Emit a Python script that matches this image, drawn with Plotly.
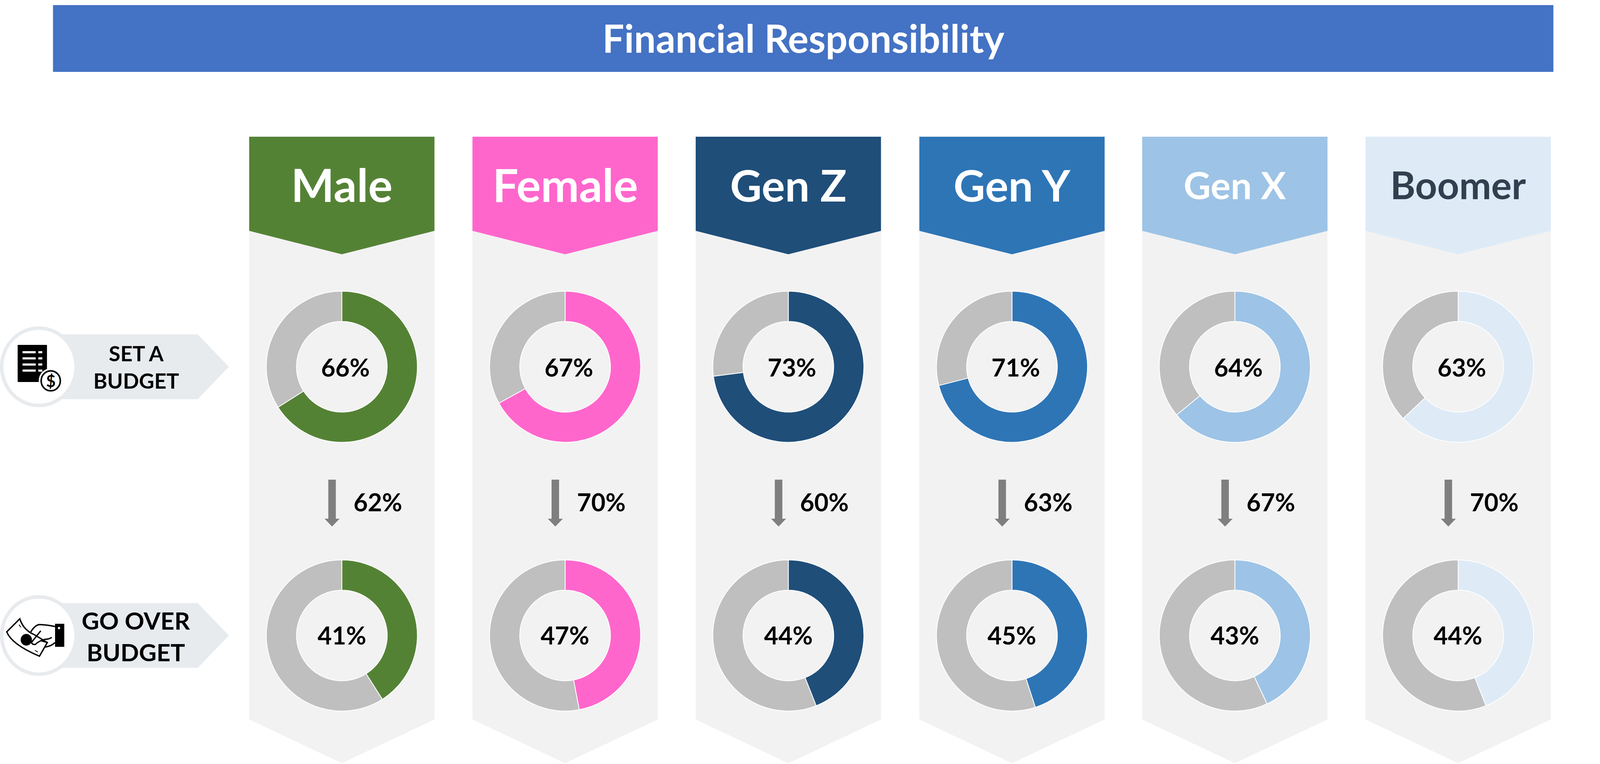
import plotly.graph_objects as go

W, H = 4257, 1956

groups = ["Male", "Female", "Gen Z", "Gen Y", "Gen X", "Boomer"]
set_budget = [66, 67, 73, 71, 64, 63]
go_over = [41, 47, 44, 45, 43, 44]
conversion = [62, 70, 60, 63, 67, 70]
colors = ["#548235", "#FF66CC", "#1F4E79", "#2E75B6", "#9DC3E6", "#DEEBF7"]
header_text = ["#FFFFFF", "#FFFFFF", "#FFFFFF", "#FFFFFF", "#FFFFFF", "#323F4F"]
header_size = [117, 117, 112, 112, 96, 98]
title = "Financial Responsibility"
row_labels = ["SET A<br>BUDGET", "GO OVER<br>BUDGET"]

GRAY, PANEL, TAG = "#BFBFBF", "#F2F2F2", "#E8EBEE"
FONT = "Lato"
col_left = [663, 1257, 1851, 2446, 3039, 3633]
COL_W = 493
R = 201
ROW_Y = [939, 1627]
ROW_TEXT_DX = [10, 0]
ROW_TEXT_DY = [1, -2]
PCT = 63


def px(x):
    return x / W


def py(y):
    return 1 - y / H


def path(d, fill, line=None, lw=0):
    return dict(type="path", xref="paper", yref="paper", path=d, fillcolor=fill, layer="below",
                line=dict(color=line or "rgba(0,0,0,0)", width=lw))


def poly(points, fill):
    d = "M " + " L ".join(f"{px(x):.5f},{py(y):.5f}" for x, y in points) + " Z"
    return path(d, fill)


def circle(cx, cy, r, fill, line=None, lw=0):
    return dict(type="circle", xref="paper", yref="paper", x0=px(cx - r), x1=px(cx + r),
                y0=py(cy + r), y1=py(cy - r), fillcolor=fill, layer="below",
                line=dict(color=line or "rgba(0,0,0,0)", width=lw))


def text(x, y, s, size, color="#000000"):
    return dict(xref="paper", yref="paper", x=px(x), y=py(y), text=f"<b>{s}</b>",
                showarrow=False, xanchor="center", yanchor="middle", align="center",
                font=dict(family=FONT, size=size, color=color))


def curve(zpoints, oy, fill, line=None, lw=0):
    out = []
    for item in zpoints:
        cmd, coords = item[0], item[1:]
        pts = " ".join(f"{px(coords[i] / 2.24):.5f},{py(oy + coords[i + 1] / 3):.5f}"
                       for i in range(0, len(coords), 2))
        out.append(f"{cmd} {pts}")
    return path(" ".join(out), fill, line, lw)


shapes, annotations, traces = [], [], []

# title bar
shapes.append(poly([(141, 13), (4133, 13), (4133, 184), (141, 184)], "#4472C4"))
annotations.append(text(2138, 96, title, 99, "#FFFFFF"))

for i, name in enumerate(groups):
    x0, x1 = col_left[i], col_left[i] + COL_W
    cx = (x0 + x1) / 2
    shapes.append(poly([(x0, 560), (x1, 560), (x1, 1842), (cx, 1954), (x0, 1842)], PANEL))
    shapes.append(poly([(x0, 350), (x1, 350), (x1, 591), (cx, 651), (x0, 591)], colors[i]))
    annotations.append(text(cx, 472, name, header_size[i], header_text[i]))
    for row, vals in enumerate([set_budget, go_over]):
        cy = ROW_Y[row]
        traces.append(go.Pie(
            values=[vals[i], 100 - vals[i]], labels=[name, "Other"], hole=0.6, sort=False,
            direction="clockwise", rotation=0, textinfo="none", hoverinfo="skip", showlegend=False,
            marker=dict(colors=[colors[i], GRAY], line=dict(color="#FFFFFF", width=2)),
            domain=dict(x=[px(cx - R), px(cx + R)], y=[py(cy + R), py(cy - R)]),
        ))
        annotations.append(text(cx + ROW_TEXT_DX[row], cy + ROW_TEXT_DY[row], f"{vals[i]}%", PCT))
    ax = cx - 26
    shapes.append(poly([(ax - 10, 1228), (ax + 10, 1228), (ax + 10, 1328), (ax + 20, 1328),
                        (ax, 1348), (ax - 20, 1328), (ax - 10, 1328)], "#7F7F7F"))
    annotations.append(text(cx + 96, 1284, f"{conversion[i]}%", PCT))

# row tags
for cy, label, size in zip(ROW_Y, row_labels, [54, 62]):
    shapes.append(poly([(120, cy - 83), (526, cy - 83), (609, cy), (526, cy + 83), (120, cy + 83)], TAG))
    shapes.append(circle(103.5, cy, 99, "#FFFFFF", TAG, 9))
    annotations.append(text(362, cy + 1, label, size))

# budget icon
shapes.append(poly([(47, 883), (125, 883), (125, 978), (47, 978)], "#000000"))
for k in range(4):
    y = 899 + k * 15.7
    shapes.append(poly([(60, y), (95, y), (95, y + 5.5), (60, y + 5.5)], "#FFFFFF"))
    shapes.append(poly([(102, y), (112.5, y), (112.5, y + 5.5), (102, y + 5.5)], "#FFFFFF"))
shapes.append(circle(135, 975, 32, "#FFFFFF"))
shapes.append(circle(135, 975, 25.5, "#FFFFFF", "#000000", 4))
annotations.append(text(135, 975, "$", 42))

# hand icon
oy = 1480
NONE = "rgba(0,0,0,0)"
shapes.append(curve([("M", 118, 313), ("L", 40, 413), ("Q", 70, 510, 235, 600), ("L", 282, 495),
                     ("L", 205, 435), ("Q", 140, 400, 118, 313), ("Z",)], oy, "#FFFFFF", "#000000", 3.5))
shapes.append(circle(70, 1638, 15, "#000000"))
shapes.append(curve([("M", 113, 358), ("L", 125, 378)], oy, NONE, "#000000", 2))
shapes.append(curve([("M", 208, 555), ("L", 225, 568)], oy, NONE, "#000000", 2))
shapes.append(curve([("M", 328, 372), ("Q", 280, 358, 232, 357), ("Q", 205, 365, 180, 420)], oy, NONE, "#000000", 3.5))
shapes.append(curve([("M", 243, 405), ("L", 190, 490), ("Q", 185, 510, 210, 510),
                     ("Q", 235, 480, 270, 470), ("Q", 295, 470, 308, 455)], oy, NONE, "#000000", 3.5))
shapes.append(curve([("M", 240, 480), ("L", 282, 495)], oy, NONE, "#000000", 3))
shapes.append(curve([("M", 265, 530), ("Q", 305, 525, 328, 495)], oy, NONE, "#000000", 3.5))
shapes.append(poly([(146.5, 1597), (171, 1597), (171, 1656), (146.5, 1656)], "#000000"))
shapes.append(circle(157, 1608, 3, "#FFFFFF"))

fig = go.Figure(traces)
fig.update_layout(autosize=True, margin=dict(l=0, r=0, t=0, b=0),
                  paper_bgcolor="#FFFFFF", plot_bgcolor="#FFFFFF", shapes=shapes,
                  annotations=annotations, showlegend=False, font=dict(family=FONT))
post = """
document.documentElement.style.overflow='hidden';
document.body.style.margin='0';
Plotly.Plots.resize(document.getElementsByClassName('plotly-graph-div')[0]);
"""
fig.write_html("out.html", config=dict(displayModeBar=False), default_width="100vw",
               default_height="100vh", post_script=post)
